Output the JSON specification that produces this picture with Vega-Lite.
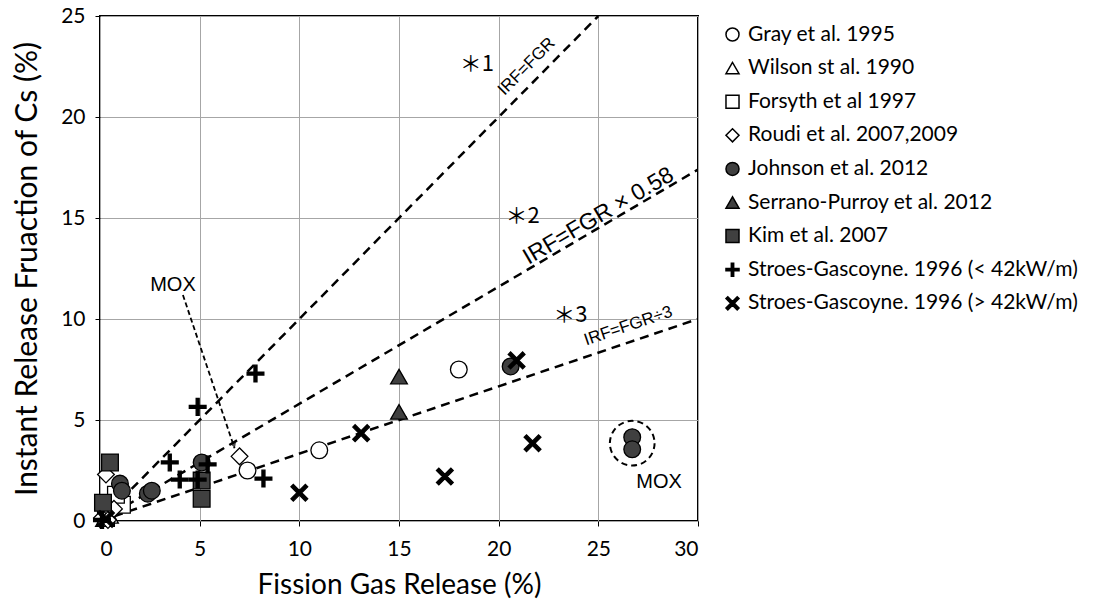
{
  "$schema": "https://vega.github.io/schema/vega-lite/v6.json",
  "width": 598,
  "height": 505,
  "autosize": {"type": "none"},
  "padding": {"left": 100, "top": 16, "right": 401, "bottom": 84},
  "background": "white",
  "config": {
    "view": {"stroke": "black", "strokeWidth": 2},
    "font": "Lato",
    "axis": {
      "grid": true,
      "gridColor": "#a6a6a6",
      "gridWidth": 1,
      "domain": false,
      "ticks": true,
      "tickColor": "black",
      "tickSize": 5,
      "tickWidth": 1,
      "labelFont": "Lato",
      "labelFontSize": 21,
      "labelColor": "black",
      "titleFont": "Lato",
      "titleFontSize": 28,
      "titleFontWeight": "normal",
      "titleColor": "black"
    },
    "legend": {
      "labelFont": "Lato", "labelFontSize": 21, "labelColor": "black", "labelLimit": 500,
      "symbolSize": 170, "symbolStrokeWidth": 1.5, "rowPadding": 11.6, "labelOffset": 5
    }
  },
  "datasets": {
    "pts": [
      {"series": "Gray et al. 1995", "fgr": 7.4, "irf": 2.5},
      {"series": "Gray et al. 1995", "fgr": 11.0, "irf": 3.5},
      {"series": "Gray et al. 1995", "fgr": 18.0, "irf": 7.5},
      {"series": "Wilson st al. 1990", "fgr": 0.2, "irf": 0.1},
      {"series": "Wilson st al. 1990", "fgr": 0.5, "irf": 0.25},
      {"series": "Forsyth et al 1997", "fgr": 1.1, "irf": 0.8},
      {"series": "Forsyth et al 1997", "fgr": 0.8, "irf": 1.3},
      {"series": "Forsyth et al 1997", "fgr": 0.3, "irf": 0.15},
      {"series": "Roudi et al. 2007,2009", "fgr": 0.3, "irf": 2.3},
      {"series": "Roudi et al. 2007,2009", "fgr": 0.1, "irf": 0.15},
      {"series": "Roudi et al. 2007,2009", "fgr": 0.4, "irf": 0.05},
      {"series": "Roudi et al. 2007,2009", "fgr": 0.7, "irf": 0.6},
      {"series": "Roudi et al. 2007,2009", "fgr": 7.0, "irf": 3.2},
      {"series": "Johnson et al. 2012", "fgr": 1.0, "irf": 1.85},
      {"series": "Johnson et al. 2012", "fgr": 1.1, "irf": 1.5},
      {"series": "Johnson et al. 2012", "fgr": 2.4, "irf": 1.35},
      {"series": "Johnson et al. 2012", "fgr": 2.6, "irf": 1.5},
      {"series": "Johnson et al. 2012", "fgr": 5.1, "irf": 2.9},
      {"series": "Johnson et al. 2012", "fgr": 20.6, "irf": 7.65},
      {"series": "Johnson et al. 2012", "fgr": 26.7, "irf": 4.15},
      {"series": "Johnson et al. 2012", "fgr": 26.7, "irf": 3.55},
      {"series": "Serrano-Purroy et al. 2012", "fgr": 15.0, "irf": 7.15},
      {"series": "Serrano-Purroy et al. 2012", "fgr": 15.0, "irf": 5.4},
      {"series": "Kim et al. 2007", "fgr": 0.5, "irf": 2.9},
      {"series": "Kim et al. 2007", "fgr": 0.15, "irf": 0.9},
      {"series": "Kim et al. 2007", "fgr": 5.1, "irf": 2.0},
      {"series": "Kim et al. 2007", "fgr": 5.1, "irf": 1.1},
      {"series": "Stroes-Gascoyne. 1996 (< 42kW/m)", "fgr": 3.5, "irf": 2.9},
      {"series": "Stroes-Gascoyne. 1996 (< 42kW/m)", "fgr": 4.0, "irf": 2.05},
      {"series": "Stroes-Gascoyne. 1996 (< 42kW/m)", "fgr": 4.9, "irf": 5.65},
      {"series": "Stroes-Gascoyne. 1996 (< 42kW/m)", "fgr": 5.4, "irf": 2.8},
      {"series": "Stroes-Gascoyne. 1996 (< 42kW/m)", "fgr": 7.8, "irf": 7.3},
      {"series": "Stroes-Gascoyne. 1996 (< 42kW/m)", "fgr": 8.2, "irf": 2.1},
      {"series": "Stroes-Gascoyne. 1996 (< 42kW/m)", "fgr": 4.9, "irf": 2.05},
      {"series": "Stroes-Gascoyne. 1996 (< 42kW/m)", "fgr": 0.1, "irf": 0.05},
      {"series": "Stroes-Gascoyne. 1996 (> 42kW/m)", "fgr": 10.0, "irf": 1.4},
      {"series": "Stroes-Gascoyne. 1996 (> 42kW/m)", "fgr": 13.1, "irf": 4.35},
      {"series": "Stroes-Gascoyne. 1996 (> 42kW/m)", "fgr": 17.3, "irf": 2.2},
      {"series": "Stroes-Gascoyne. 1996 (> 42kW/m)", "fgr": 20.9, "irf": 7.95},
      {"series": "Stroes-Gascoyne. 1996 (> 42kW/m)", "fgr": 21.7, "irf": 3.85},
      {"series": "Stroes-Gascoyne. 1996 (> 42kW/m)", "fgr": 0.3, "irf": 0.1}
    ],
    "reflines": [
      {"line": "IRF=FGR", "fgr": 0, "irf": 0},
      {"line": "IRF=FGR", "fgr": 25, "irf": 25},
      {"line": "IRF=FGR x 0.58", "fgr": 0, "irf": 0},
      {"line": "IRF=FGR x 0.58", "fgr": 30, "irf": 17.4},
      {"line": "IRF=FGR / 3", "fgr": 0, "irf": 0},
      {"line": "IRF=FGR / 3", "fgr": 30, "irf": 10}
    ]
  },
  "layer": [
    {
      "data": {"name": "reflines"},
      "mark": {"type": "line", "color": "black", "strokeWidth": 2.5, "strokeDash": [9, 6], "clip": true},
      "encoding": {
        "x": {"field": "fgr", "type": "quantitative", "scale": {"domain": [0, 30], "nice": false}},
        "y": {"field": "irf", "type": "quantitative", "scale": {"domain": [0, 25], "nice": false}},
        "detail": {"field": "line"}
      }
    },
    {
      "data": {"values": [{"fgr": 4.16, "irf": 11.19}, {"fgr": 6.75, "irf": 3.6}]},
      "mark": {"type": "line", "color": "black", "strokeWidth": 1.8, "strokeDash": [5, 3]},
      "encoding": {
        "x": {"field": "fgr", "type": "quantitative"},
        "y": {"field": "irf", "type": "quantitative"}
      }
    },
    {
      "data": {"values": [{"fgr": 6.72, "irf": 3.75}]},
      "mark": {"type": "point", "shape": "triangle-down", "filled": true, "color": "black", "size": 45, "angle": 341.3},
      "encoding": {
        "x": {"field": "fgr", "type": "quantitative"},
        "y": {"field": "irf", "type": "quantitative"}
      }
    },
    {
      "data": {"values": [{"fgr": 26.7, "irf": 3.85}]},
      "mark": {"type": "point", "shape": "circle", "filled": false, "stroke": "black", "strokeWidth": 2, "strokeDash": [6, 4], "size": 2000, "opacity": 1},
      "encoding": {
        "x": {"field": "fgr", "type": "quantitative"},
        "y": {"field": "irf", "type": "quantitative"}
      }
    },
    {
      "data": {"name": "pts"},
      "mark": {"type": "point", "filled": true, "strokeWidth": 1.3, "size": 280, "opacity": 1},
      "encoding": {
        "x": {
          "field": "fgr", "type": "quantitative",
          "scale": {"domain": [0, 30], "nice": false},
          "axis": {"values": [0, 5, 10, 15, 20, 25, 30], "title": "Fission Gas Release (%)", "labelPadding": 12, "titlePadding": 12}
        },
        "y": {
          "field": "irf", "type": "quantitative",
          "scale": {"domain": [0, 25], "nice": false},
          "axis": {"values": [0, 5, 10, 15, 20, 25], "title": "Instant Release Fruaction of Cs (%)", "titleFontSize": 30, "labelPadding": 10, "titlePadding": 18}
        },
        "shape": {
          "field": "series", "type": "nominal",
          "scale": {
            "domain": ["Gray et al. 1995", "Wilson st al. 1990", "Forsyth et al 1997", "Roudi et al. 2007,2009", "Johnson et al. 2012", "Serrano-Purroy et al. 2012", "Kim et al. 2007", "Stroes-Gascoyne. 1996 (< 42kW/m)", "Stroes-Gascoyne. 1996 (> 42kW/m)"],
            "range": ["circle", "triangle-up", "square", "diamond", "circle", "triangle-up", "square",
              "M-1,-0.18H-0.18V-1H0.18V-0.18H1V0.18H0.18V1H-0.18V0.18H-1Z",
              "M-1,-0.72L-0.72,-1L0,-0.28L0.72,-1L1,-0.72L0.28,0L1,0.72L0.72,1L0,0.28L-0.72,1L-1,0.72L-0.28,0Z"]
          },
          "legend": {"title": null, "orient": "none", "legendX": 622, "legendY": 8}
        },
        "fill": {
          "field": "series", "type": "nominal",
          "scale": {
            "domain": ["Gray et al. 1995", "Wilson st al. 1990", "Forsyth et al 1997", "Roudi et al. 2007,2009", "Johnson et al. 2012", "Serrano-Purroy et al. 2012", "Kim et al. 2007", "Stroes-Gascoyne. 1996 (< 42kW/m)", "Stroes-Gascoyne. 1996 (> 42kW/m)"],
            "range": ["white", "white", "white", "white", "#404040", "#404040", "#404040", "black", "black"]
          },
          "legend": {"title": null, "orient": "none", "legendX": 622, "legendY": 8}
        },
        "stroke": {
          "field": "series", "type": "nominal",
          "scale": {
            "domain": ["Gray et al. 1995", "Wilson st al. 1990", "Forsyth et al 1997", "Roudi et al. 2007,2009", "Johnson et al. 2012", "Serrano-Purroy et al. 2012", "Kim et al. 2007", "Stroes-Gascoyne. 1996 (< 42kW/m)", "Stroes-Gascoyne. 1996 (> 42kW/m)"],
            "range": ["black", "black", "black", "black", "black", "black", "black", "black", "black"]
          },
          "legend": {"title": null, "orient": "none", "legendX": 622, "legendY": 8}
        }
      }
    },
    {
      "data": {"values": [{"fgr": 18.9, "irf": 22.6, "label": "＊1"}, {"fgr": 21.2, "irf": 15.1, "label": "＊2"}, {"fgr": 23.6, "irf": 10.2, "label": "＊3"}]},
      "mark": {"type": "text", "font": "Noto Sans CJK JP", "fontSize": 22, "color": "black", "align": "center", "baseline": "middle"},
      "encoding": {
        "x": {"field": "fgr", "type": "quantitative"},
        "y": {"field": "irf", "type": "quantitative"},
        "text": {"field": "label"}
      }
    },
    {
      "data": {"values": [{"fgr": 21.4, "irf": 22.5, "label": "IRF=FGR"}]},
      "mark": {"type": "text", "font": "Liberation Sans", "fontSize": 17, "color": "black", "align": "center", "baseline": "middle", "angle": 314.6},
      "encoding": {
        "x": {"field": "fgr", "type": "quantitative"},
        "y": {"field": "irf", "type": "quantitative"},
        "text": {"field": "label"}
      }
    },
    {
      "data": {"values": [{"fgr": 25.0, "irf": 15.1, "label": "IRF=FGR × 0.58"}]},
      "mark": {"type": "text", "font": "Liberation Sans", "fontSize": 23, "color": "black", "align": "center", "baseline": "middle", "angle": 329.6},
      "encoding": {
        "x": {"field": "fgr", "type": "quantitative"},
        "y": {"field": "irf", "type": "quantitative"},
        "text": {"field": "label"}
      }
    },
    {
      "data": {"values": [{"fgr": 26.5, "irf": 9.65, "label": "IRF=FGR÷3"}]},
      "mark": {"type": "text", "font": "Liberation Sans", "fontSize": 17, "color": "black", "align": "center", "baseline": "middle", "angle": 341.3},
      "encoding": {
        "x": {"field": "fgr", "type": "quantitative"},
        "y": {"field": "irf", "type": "quantitative"},
        "text": {"field": "label"}
      }
    },
    {
      "data": {"values": [{"fgr": 3.66, "irf": 11.7, "label": "MOX"}, {"fgr": 28.05, "irf": 1.93, "label": "MOX"}]},
      "mark": {"type": "text", "font": "Liberation Sans", "fontSize": 20, "color": "black", "align": "center", "baseline": "middle"},
      "encoding": {
        "x": {"field": "fgr", "type": "quantitative"},
        "y": {"field": "irf", "type": "quantitative"},
        "text": {"field": "label"}
      }
    }
  ]
}
